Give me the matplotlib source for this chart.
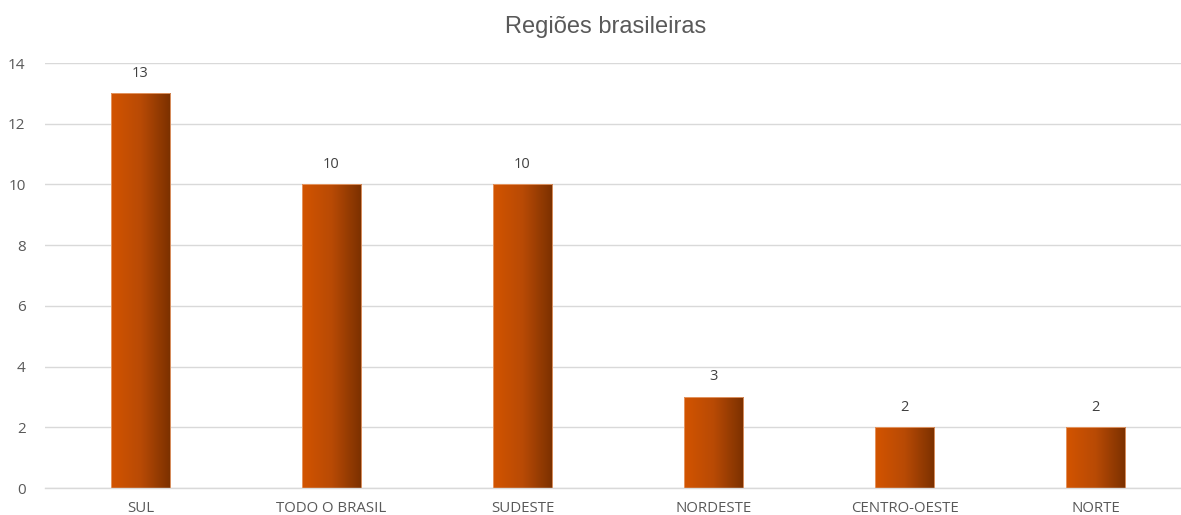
import numpy as np
import matplotlib
matplotlib.use("Agg")
import matplotlib.pyplot as plt
from matplotlib.colors import LinearSegmentedColormap

categories = ["SUL", "TODO O BRASIL", "SUDESTE", "NORDESTE", "CENTRO-OESTE", "NORTE"]
values = [13, 10, 10, 3, 2, 2]
yticks = [0, 2, 4, 6, 8, 10, 12, 14]
title = "Regiões brasileiras"

W, H = 1181, 515
fig = plt.figure(figsize=(W / 100, H / 100), dpi=100)
ax = fig.add_axes([45 / W, (H - 488) / H, (W - 45) / W, (488 - 63) / H])

x = np.arange(len(categories))
bw = 0.314
bars = ax.bar(x, values, width=bw, color="none", edgecolor="#e8a070", linewidth=0.6, zorder=3)

cmap = LinearSegmentedColormap.from_list("g", ["#d35400", "#b84a05", "#7a3000"])
grad = np.linspace(0, 1, 256).reshape(1, -1)
for b in bars:
    x0, y0 = b.get_x(), b.get_y()
    w, h = b.get_width(), b.get_height()
    im = ax.imshow(grad, cmap=cmap, aspect="auto", extent=[x0, x0 + w, y0, y0 + h],
                   zorder=2, interpolation="bilinear")
    im.set_clip_path(b)

for xi, v in zip(x, values):
    ax.annotate(str(v), (xi, v), xytext=(0, 9), textcoords="offset points",
                ha="center", va="bottom", fontsize=10.5, color="#404040", family="Open Sans")

ax.set_xlim(-0.5, (W - 45) / 191 - 0.5)
ax.set_ylim(0, 14)
ax.set_yticks(yticks)
ax.set_yticklabels([str(t) for t in yticks], family="Open Sans", fontsize=11, color="#595959")
ax.set_xticks(x)
ax.set_xticklabels(categories, family="Open Sans", fontsize=10.8, color="#595959")
ax.tick_params(axis="both", length=0)
ax.tick_params(axis="y", pad=14)
ax.tick_params(axis="x", pad=9)
ax.grid(axis="y", color="#d9d9d9", linewidth=1, zorder=0)
for s in ["top", "right", "left"]:
    ax.spines[s].set_visible(False)
ax.spines["bottom"].set_color("#d9d9d9")
ax.spines["bottom"].set_linewidth(1)

fig.text(606 / W, 1 - 27 / H, title, ha="center", va="center", fontsize=17,
         color="#595959", family="Liberation Sans")

fig.savefig("out.png", dpi=100)
